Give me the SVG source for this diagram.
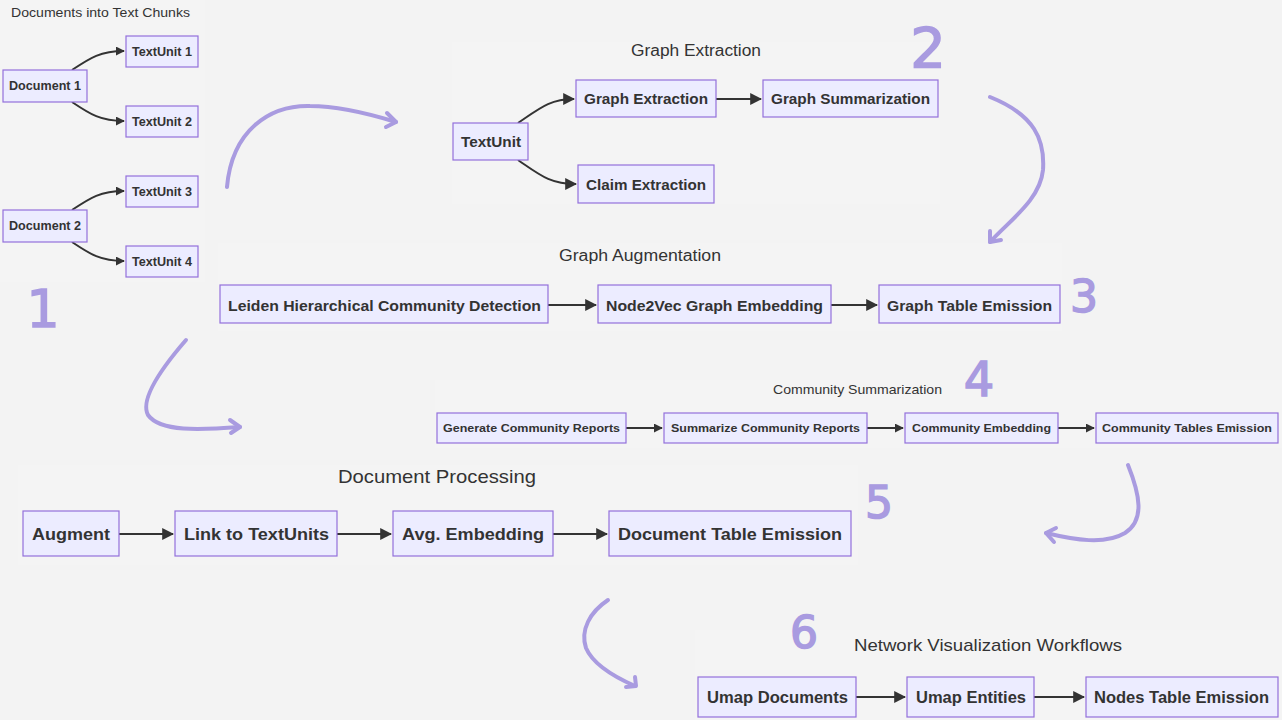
<svg xmlns="http://www.w3.org/2000/svg" width="1282" height="720" viewBox="0 0 1282 720">
<style>
.bg{fill:#f3f3f3}
.panel{fill:#f4f4f4}
.node rect{fill:#ececff;stroke:#9370db;stroke-width:1.2}
.node text{font-family:"Liberation Sans",Arial,sans-serif;font-weight:bold;fill:#333;text-anchor:middle}
.title{font-family:"Liberation Sans",Arial,sans-serif;fill:#333;text-anchor:middle}
.edge{fill:none;stroke:#333;stroke-width:2}
.hand{fill:none;stroke:#a99be0;stroke-width:4;stroke-linecap:round;stroke-linejoin:round}
.num{font-family:"DejaVu Sans","Liberation Sans",sans-serif;fill:#a99be0;stroke:#a99be0;stroke-width:1.5;text-anchor:middle}
</style>
<defs>
<marker id="arr" viewBox="0 0 10 10" refX="9" refY="5" markerWidth="9" markerHeight="9" markerUnits="userSpaceOnUse" orient="auto">
<path d="M0,0 L10,5 L0,10 z" fill="#333"/>
</marker>
<marker id="arrL" viewBox="0 0 10 10" refX="9" refY="5" markerWidth="12" markerHeight="12" markerUnits="userSpaceOnUse" orient="auto">
<path d="M0,0 L10,5 L0,10 z" fill="#333"/>
</marker>
</defs>
<rect class="bg" x="0" y="0" width="1282" height="720"/>
<g id="panels">
<rect class="panel" x="0" y="0" width="205" height="282"/>
<rect class="panel" x="452" y="42" width="488" height="162"/>
<rect class="panel" x="218" y="243" width="844" height="88"/>
<rect class="panel" x="435" y="380" width="847" height="68"/>
<rect class="panel" x="18" y="465" width="840" height="100"/>
<rect class="panel" x="695" y="630" width="587" height="90"/>
</g>
<g id="titles">
<text class="title" x="100.5" y="16.5" font-size="13" textLength="179" lengthAdjust="spacingAndGlyphs">Documents into Text Chunks</text>
<text class="title" x="696" y="55.5" font-size="16" textLength="130" lengthAdjust="spacingAndGlyphs">Graph Extraction</text>
<text class="title" x="640" y="260.5" font-size="16" textLength="162" lengthAdjust="spacingAndGlyphs">Graph Augmentation</text>
<text class="title" x="857.5" y="393.5" font-size="13" textLength="169" lengthAdjust="spacingAndGlyphs">Community Summarization</text>
<text class="title" x="437" y="482.5" font-size="19" textLength="198" lengthAdjust="spacingAndGlyphs">Document Processing</text>
<text class="title" x="988" y="651" font-size="17" textLength="268" lengthAdjust="spacingAndGlyphs">Network Visualization Workflows</text>
</g>
<g id="connectors">
<path class="edge" d="M72,70 C90,58 100,51 124,51" marker-end="url(#arr)"/>
<path class="edge" d="M72,102 C90,114 100,121 124,121" marker-end="url(#arr)"/>
<path class="edge" d="M72,210 C90,198 100,191 124,191" marker-end="url(#arr)"/>
<path class="edge" d="M72,242 C90,254 100,261 124,261" marker-end="url(#arr)"/>
<path class="edge" d="M518,123 C540,108 550,99 574,99" marker-end="url(#arrL)"/>
<path class="edge" d="M518,160 C540,175 550,184 576,184" marker-end="url(#arrL)"/>
<path class="edge" d="M716,99 L761,99" marker-end="url(#arrL)"/>
<path class="edge" d="M548,305 L596,305" marker-end="url(#arrL)"/>
<path class="edge" d="M831,305 L877,305" marker-end="url(#arrL)"/>
<path class="edge" d="M626,428 L662,428" marker-end="url(#arr)"/>
<path class="edge" d="M867,428 L903,428" marker-end="url(#arr)"/>
<path class="edge" d="M1058,428 L1094,428" marker-end="url(#arr)"/>
<path class="edge" d="M119,534 L173,534" marker-end="url(#arrL)"/>
<path class="edge" d="M337,534 L391,534" marker-end="url(#arrL)"/>
<path class="edge" d="M553,534 L607,534" marker-end="url(#arrL)"/>
<path class="edge" d="M856,697 L905,697" marker-end="url(#arrL)"/>
<path class="edge" d="M1034,697 L1084,697" marker-end="url(#arrL)"/>
</g>
<g id="n-doc1" class="node"><rect x="3" y="70" width="84" height="32"/><text x="45" y="90" font-size="12" textLength="72" lengthAdjust="spacingAndGlyphs">Document 1</text></g>
<g id="n-tu1" class="node"><rect x="126" y="36" width="72" height="31"/><text x="162" y="55.5" font-size="12" textLength="60" lengthAdjust="spacingAndGlyphs">TextUnit 1</text></g>
<g id="n-tu2" class="node"><rect x="126" y="106" width="72" height="31"/><text x="162" y="125.5" font-size="12" textLength="60" lengthAdjust="spacingAndGlyphs">TextUnit 2</text></g>
<g id="n-doc2" class="node"><rect x="3" y="210" width="84" height="32"/><text x="45" y="230" font-size="12" textLength="72" lengthAdjust="spacingAndGlyphs">Document 2</text></g>
<g id="n-tu3" class="node"><rect x="126" y="176" width="72" height="31"/><text x="162" y="195.5" font-size="12" textLength="60" lengthAdjust="spacingAndGlyphs">TextUnit 3</text></g>
<g id="n-tu4" class="node"><rect x="126" y="246" width="72" height="31"/><text x="162" y="265.5" font-size="12" textLength="60" lengthAdjust="spacingAndGlyphs">TextUnit 4</text></g>
<g id="n-textunit" class="node"><rect x="453" y="123" width="75" height="37"/><text x="491" y="146.5" font-size="15" textLength="60" lengthAdjust="spacingAndGlyphs">TextUnit</text></g>
<g id="n-gext" class="node"><rect x="576" y="80" width="140" height="37"/><text x="646" y="104" font-size="15" textLength="124" lengthAdjust="spacingAndGlyphs">Graph Extraction</text></g>
<g id="n-gsum" class="node"><rect x="763" y="80" width="175" height="37"/><text x="850.5" y="104" font-size="15" textLength="159" lengthAdjust="spacingAndGlyphs">Graph Summarization</text></g>
<g id="n-claim" class="node"><rect x="578" y="165" width="136" height="38"/><text x="646" y="189.5" font-size="15" textLength="120" lengthAdjust="spacingAndGlyphs">Claim Extraction</text></g>
<g id="n-leiden" class="node"><rect x="220" y="285" width="328" height="38"/><text x="384.5" y="310.5" font-size="15" textLength="313" lengthAdjust="spacingAndGlyphs">Leiden Hierarchical Community Detection</text></g>
<g id="n-n2v" class="node"><rect x="598" y="285" width="233" height="38"/><text x="714.5" y="310.5" font-size="15" textLength="217" lengthAdjust="spacingAndGlyphs">Node2Vec Graph Embedding</text></g>
<g id="n-gte" class="node"><rect x="879" y="285" width="181" height="38"/><text x="969.5" y="310.5" font-size="15" textLength="165" lengthAdjust="spacingAndGlyphs">Graph Table Emission</text></g>
<g id="n-gcr" class="node"><rect x="437" y="413" width="189" height="30"/><text x="531.5" y="432" font-size="11.5" textLength="177" lengthAdjust="spacingAndGlyphs">Generate Community Reports</text></g>
<g id="n-scr" class="node"><rect x="664" y="413" width="203" height="30"/><text x="765.5" y="432" font-size="11.5" textLength="189" lengthAdjust="spacingAndGlyphs">Summarize Community Reports</text></g>
<g id="n-ce" class="node"><rect x="905" y="413" width="153" height="30"/><text x="981.5" y="432" font-size="11.5" textLength="139" lengthAdjust="spacingAndGlyphs">Community Embedding</text></g>
<g id="n-cte" class="node"><rect x="1096" y="413" width="182" height="30"/><text x="1187" y="432" font-size="11.5" textLength="170" lengthAdjust="spacingAndGlyphs">Community Tables Emission</text></g>
<g id="n-aug" class="node"><rect x="23" y="511" width="96" height="45"/><text x="71" y="540" font-size="17" textLength="78" lengthAdjust="spacingAndGlyphs">Augment</text></g>
<g id="n-link" class="node"><rect x="175" y="511" width="162" height="45"/><text x="256.5" y="540" font-size="17" textLength="145" lengthAdjust="spacingAndGlyphs">Link to TextUnits</text></g>
<g id="n-avg" class="node"><rect x="393" y="511" width="160" height="45"/><text x="473" y="540" font-size="17" textLength="142" lengthAdjust="spacingAndGlyphs">Avg. Embedding</text></g>
<g id="n-dte" class="node"><rect x="609" y="511" width="242" height="45"/><text x="730" y="540" font-size="17" textLength="224" lengthAdjust="spacingAndGlyphs">Document Table Emission</text></g>
<g id="n-umd" class="node"><rect x="698" y="677" width="158" height="40"/><text x="777.5" y="702.5" font-size="16" textLength="141" lengthAdjust="spacingAndGlyphs">Umap Documents</text></g>
<g id="n-ume" class="node"><rect x="907" y="677" width="127" height="40"/><text x="971" y="702.5" font-size="16" textLength="110" lengthAdjust="spacingAndGlyphs">Umap Entities</text></g>
<g id="n-nte" class="node"><rect x="1086" y="677" width="192" height="40"/><text x="1181.5" y="702.5" font-size="16" textLength="175" lengthAdjust="spacingAndGlyphs">Nodes Table Emission</text></g>
<g id="hand-arrows">
<path class="hand" d="M227,187 C232,130 270,105 310,106 C340,106 370,114 396,122"/>
<path class="hand" d="M387,113 L396,122 L386,127"/>
<path class="hand" d="M990,97 C1035,115 1045,140 1043,170 C1040,200 1010,220 990,242"/>
<path class="hand" d="M990,231 L990,242 L1001,240"/>
<path class="hand" d="M186,340 C160,370 140,400 148,415 C160,432 200,430 240,427"/>
<path class="hand" d="M230,420 L240,427 L231,433"/>
<path class="hand" d="M1128,465 C1140,495 1145,520 1125,533 C1105,545 1075,540 1046,533"/>
<path class="hand" d="M1056,528 L1046,533 L1054,542"/>
<path class="hand" d="M608,600 C590,612 580,630 586,648 C592,662 610,675 635,686"/>
<path class="hand" d="M635,677 L636,686 L626,687"/>
</g>
<g id="numerals">
<text class="num" x="43" y="327" font-size="52">1</text>
<text class="num" x="928" y="67" font-size="56">2</text>
<text class="num" x="1084" y="312" font-size="44">3</text>
<text class="num" x="979" y="396" font-size="48">4</text>
<text class="num" x="879" y="518" font-size="44">5</text>
<text class="num" x="804" y="648" font-size="44">6</text>
</g>
</svg>
